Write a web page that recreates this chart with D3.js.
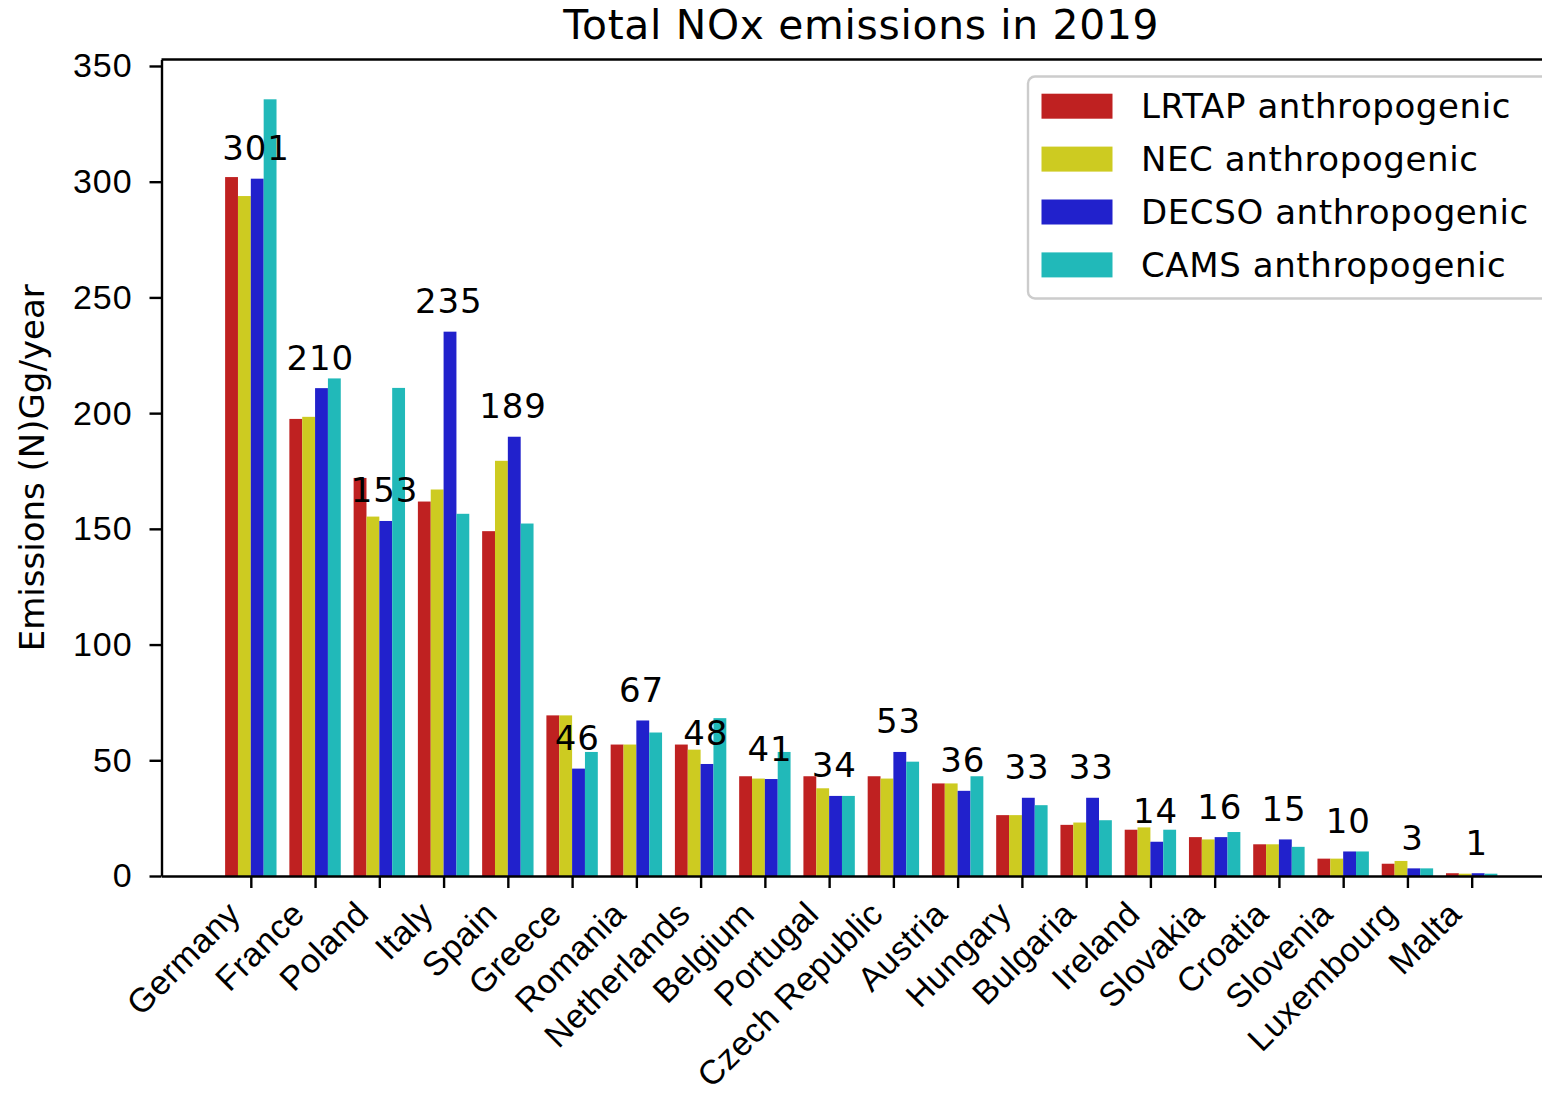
<!DOCTYPE html>
<meta charset="utf-8">
<style>
body { margin: 0; background: #fff; }
svg { display: block; font-family: "DejaVu Sans", sans-serif; }
.tick text { font-size: 34px; fill: #000; letter-spacing: 0.9px; }
.x-axis .tick text { letter-spacing: 0.5px; }
.tick line, .domain { stroke: #000; stroke-width: 2.4px; }
.bar-label { font-size: 34px; fill: #000; text-anchor: middle; letter-spacing: 0.8px; }
</style>
<body>
<script src="https://d3js.org/d3.v7.min.js"></script>
<script>
// data
const countries = ["Germany", "France", "Poland", "Italy", "Spain", "Greece", "Romania",
  "Netherlands", "Belgium", "Portugal", "Czech Republic", "Austria", "Hungary", "Bulgaria",
  "Ireland", "Slovakia", "Croatia", "Slovenia", "Luxembourg", "Malta"];
const lrtap = [302, 197.5, 172, 161.8, 149, 69.4, 56.8, 56.8, 43.1, 43.1, 43.1, 40, 26.3, 22.1, 20, 16.8, 13.7, 7.5, 5.3, 1.2];
const nec   = [293.8, 198.4, 155.3, 167, 179.4, 69.4, 56.8, 54.6, 42.1, 37.9, 42.1, 40, 26.3, 23.1, 21, 15.8, 13.7, 7.5, 6.5, 1.0];
const decso = [301.3, 210.8, 153.4, 235.2, 189.8, 46.4, 67.2, 48.4, 41.9, 34.6, 53.6, 36.8, 33.8, 33.8, 14.8, 16.8, 15.8, 10.6, 3.3, 1.2];
const cams  = [335.6, 215, 210.9, 156.5, 152.3, 53.6, 62, 68.2, 53.6, 34.6, 49.4, 43.1, 30.6, 24.1, 20, 19, 12.6, 10.6, 3.3, 1.0];
const seriesNames = ["LRTAP anthropogenic", "NEC anthropogenic", "DECSO anthropogenic", "CAMS anthropogenic"];
const seriesColors = ["#bf2121", "#cdcb21", "#2121cc", "#21b9b9"];
const yTicks = [0, 50, 100, 150, 200, 250, 300, 350];

const series = [lrtap, nec, decso, cams];

const W = 1542, H = 1096;
// axes box (right side runs past the picture edge, as in the original)
const margin = {top: 59.5, left: 161.5, bottom: 876, right: 1561};
const barW = 0.2;

const x = d3.scaleLinear()
    .domain([-0.4 - 0.99, countries.length - 1 + 0.4 + 0.99])
    .range([margin.left, margin.right]);
const y = d3.scaleLinear()
    .domain([0, 352.8])
    .range([margin.bottom, margin.top]);

const svg = d3.select("body").append("svg")
    .attr("width", W)
    .attr("height", H)
    .style("overflow", "hidden");

// bars
series.forEach(function(vals, s) {
  svg.append("g")
    .selectAll("rect")
    .data(vals)
    .enter().append("rect")
      .attr("x", (d, i) => x(i + (s - 2) * barW))
      .attr("width", x(barW) - x(0))
      .attr("y", d => y(d))
      .attr("height", d => y(0) - y(d))
      .attr("fill", seriesColors[s]);
});

// DECSO value labels
svg.append("g")
  .selectAll("text")
  .data(decso)
  .enter().append("text")
    .attr("class", "bar-label")
    .attr("x", (d, i) => x(i + 0.08))
    .attr("y", d => y(d + 8))
    .text(d => Math.floor(d));

// axes
const yAxis = svg.append("g")
    .attr("transform", "translate(" + margin.left + ",0)")
    .call(d3.axisLeft(y).tickValues(yTicks).tickSize(12).tickPadding(17).tickSizeOuter(0));
yAxis.selectAll(".tick text").attr("font-family", null).attr("font-size", null);

const xAxis = svg.append("g")
    .attr("class", "x-axis")
    .attr("transform", "translate(0," + margin.bottom + ")")
    .call(d3.axisBottom(x)
      .tickValues(d3.range(countries.length))
      .tickFormat(i => countries[i])
      .tickSize(12)
      .tickSizeOuter(0));
xAxis.selectAll(".tick text")
    .attr("font-family", null).attr("font-size", null)
    .attr("x", 0).attr("y", 0).attr("dy", 0)
    .attr("text-anchor", "end")
    .attr("transform", "translate(-9,40) rotate(-45)");

// top and right spines
svg.append("line")
    .attr("x1", margin.left).attr("x2", margin.right)
    .attr("y1", margin.top).attr("y2", margin.top)
    .attr("stroke", "#000").attr("stroke-width", 2.4);
svg.append("line")
    .attr("x1", margin.right).attr("x2", margin.right)
    .attr("y1", margin.top).attr("y2", margin.bottom)
    .attr("stroke", "#000").attr("stroke-width", 2.4);

// title
svg.append("text")
    .attr("x", (margin.left + margin.right) / 2)
    .attr("y", 39)
    .attr("text-anchor", "middle")
    .style("font-size", "40.8px")
    .style("letter-spacing", "0.7px")
    .text("Total NOx emissions in 2019");

// y label
svg.append("text")
    .attr("transform", "translate(44," + ((margin.top + margin.bottom) / 2) + ") rotate(-90)")
    .attr("text-anchor", "middle")
    .style("font-size", "34px")
    .text("Emissions (N)Gg/year");

// legend
const legend = svg.append("g").attr("transform", "translate(1028,76.5)");
legend.append("rect")
    .attr("width", 522).attr("height", 222)
    .attr("rx", 7)
    .attr("fill", "#fff").attr("fill-opacity", 0.8)
    .attr("stroke", "#ccc").attr("stroke-width", 2.4);
seriesNames.forEach(function(name, s) {
  const row = legend.append("g").attr("transform", "translate(0," + (29.7 + s * 52.9) + ")");
  row.append("rect")
      .attr("x", 13.5).attr("y", -12.5)
      .attr("width", 71).attr("height", 25)
      .attr("fill", seriesColors[s]);
  row.append("text")
      .attr("x", 113)
      .attr("y", 12)
      .style("font-size", "34px")
      .style("letter-spacing", "0.6px")
      .text(name);
});
</script>
</body>
